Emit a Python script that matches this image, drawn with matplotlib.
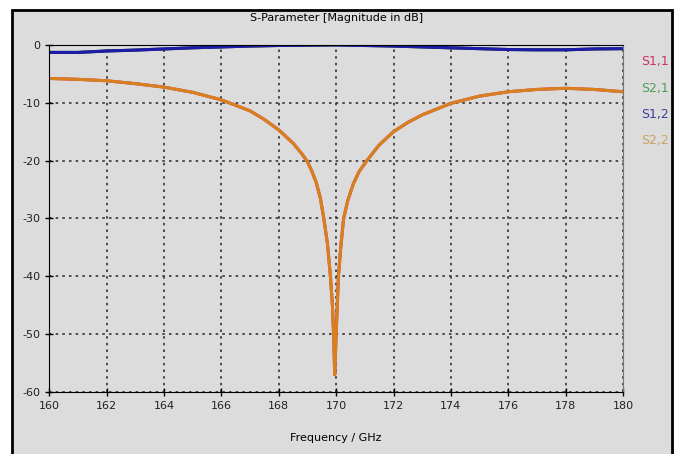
import numpy as np
import matplotlib
matplotlib.use("Agg")
import matplotlib.pyplot as plt
from matplotlib.patches import Rectangle

plt.rcParams["axes.unicode_minus"] = False

# values (GHz, dB)
freq_refl = [160, 161, 162, 163, 164, 165, 166, 167, 167.5, 168, 168.5, 168.8,
             169, 169.15, 169.3, 169.45, 169.57, 169.7, 169.8, 169.87, 169.91,
             169.95, 170.0, 170.04, 170.08, 170.16, 170.26, 170.4, 170.6, 170.8,
             171.07, 171.5, 172, 172.5, 173, 174, 175, 176, 177, 178, 179, 180]
s22 = [-5.8, -5.95, -6.2, -6.7, -7.3, -8.2, -9.5, -11.4, -12.9, -14.7, -17.0, -18.8,
       -20.2, -21.8, -23.7, -26.5, -30.0, -34.5, -40.0, -45.0, -50.0,
       -57.0, -50.0, -45.0, -40.0, -35.0, -30.0, -27.0, -24.0, -21.9,
       -20.0, -17.3, -15.0, -13.4, -12.1, -10.1, -8.85, -8.1, -7.7, -7.5, -7.7, -8.1]
s11 = s22

freq_trans = [160, 161, 162, 163, 164, 165, 166, 167, 168, 169, 170,
              171, 172, 173, 174, 175, 176, 177, 178, 179, 180]
s12 = [-1.3, -1.3, -1.05, -0.9, -0.7, -0.5, -0.35, -0.2, -0.1, -0.05, 0.0,
       -0.1, -0.2, -0.35, -0.5, -0.65, -0.8, -0.85, -0.85, -0.7, -0.65]
s21 = s12

labels = ["S1,1", "S2,1", "S1,2", "S2,2"]
label_colors = ["#c8325e", "#4e9a5c", "#3c3c9c", "#c9a364"]

bg = "#dcdcdc"
fig = plt.figure(figsize=(6.8, 4.54), dpi=100)
fig.patch.set_facecolor("white")
fig.patches.append(Rectangle((12 / 680, -0.01), 660 / 680, 1 - 10 / 454 + 0.01,
                             transform=fig.transFigure, facecolor=bg,
                             edgecolor="black", linewidth=2, zorder=-1))

ax = fig.add_axes([49.3 / 680, 1 - 392 / 454, (623 - 49.3) / 680, (392 - 44.9) / 454])
ax.set_facecolor(bg)

ax.plot(freq_refl, s11, color="#c8325e", lw=2.2)
ax.plot(freq_trans, s21, color="#1e3a1e", lw=2.2)
ax.plot(freq_trans, s12, color="#1c1ca8", lw=2.2)
ax.plot(freq_refl, s22, color="#d9801e", lw=2.2)

ax.set_xlim(160, 180)
ax.set_ylim(-60, 0)
ax.set_xticks(np.arange(160, 181, 2))
ax.set_yticks(np.arange(-60, 1, 10))
ax.grid(True, color="#333333", linestyle=(0, (1.5, 2.5)), linewidth=1.2)
ax.tick_params(direction="inout", length=6, labelsize=8, labelcolor="#222222",
               colors="black", width=1)
ax.spines["top"].set_color("black")
ax.spines["right"].set_color("#777777")

ax.set_title("S-Parameter [Magnitude in dB]", fontsize=8, pad=17)
ax.set_xlabel("Frequency / GHz", fontsize=8, labelpad=16)

for i, (lab, c) in enumerate(zip(labels, label_colors)):
    fig.text(655 / 680, 1 - (62 + i * 26.3) / 454, lab, color=c, fontsize=9,
             ha="center", va="center")

fig.savefig("out.png", dpi=100, facecolor=fig.get_facecolor())
